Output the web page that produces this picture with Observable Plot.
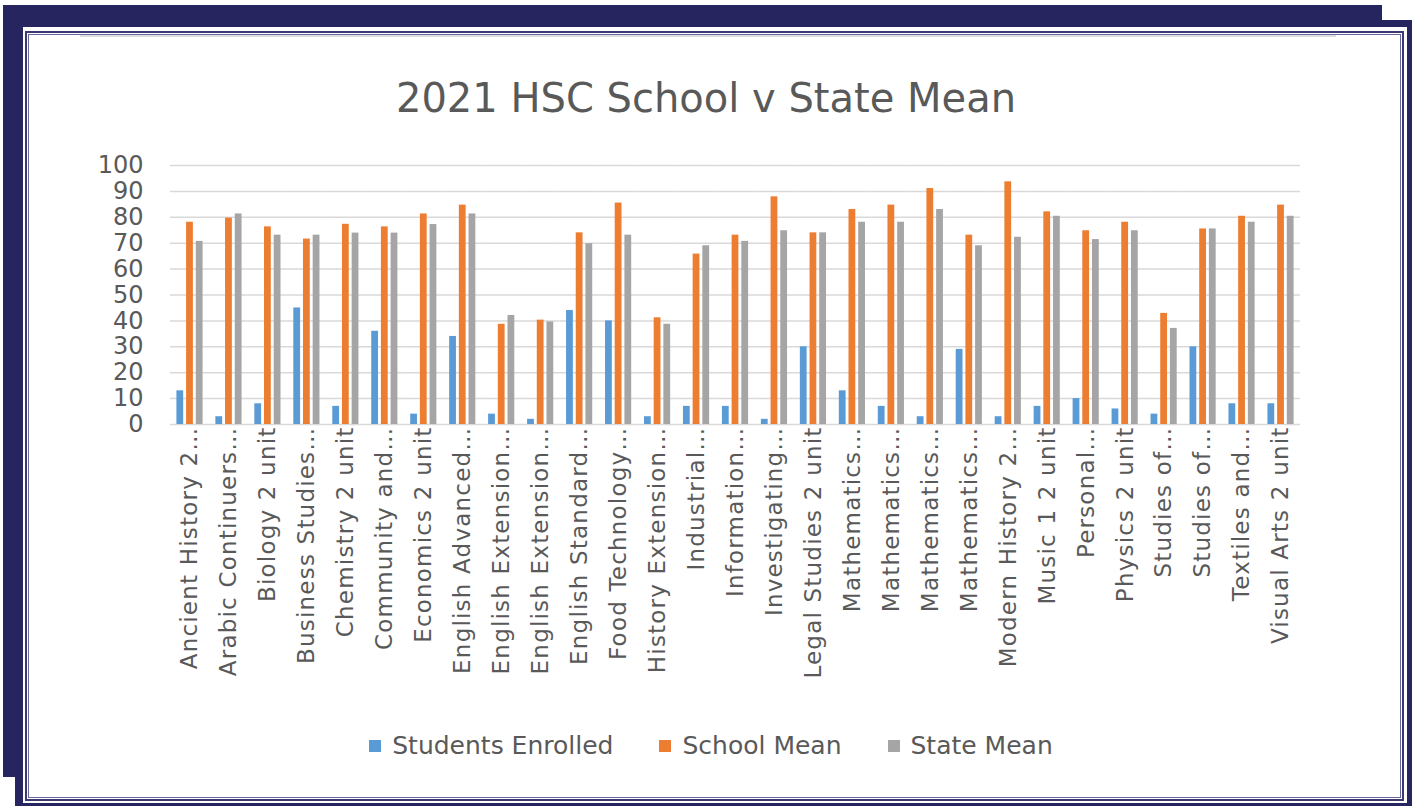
<!DOCTYPE html>
<html>
<head>
<meta charset="utf-8">
<script src="https://cdn.jsdelivr.net/npm/d3@7"></script>
<script src="https://cdn.jsdelivr.net/npm/@observablehq/plot@0.6"></script>
<style>
  html, body { margin:0; padding:0; background:#ffffff; }
  body { width:1415px; height:806px; position:relative; overflow:hidden; font-family:"DejaVu Sans", sans-serif; }
  .navy-back { position:absolute; left:3px; top:5px; width:1379px; height:772px; background:#27255f; }
  .navy-shadow { position:absolute; left:15px; top:20px; width:1397px; height:786px; background:#27255f; }
  .panel { position:absolute; left:23px; top:27px; width:1384px; height:776px; background:#ffffff; }
  .panel-border { position:absolute; left:25px; top:31px; width:1375px; height:766px; border:2px solid #3b3975; box-shadow: inset 0 0 0 1px #ffffff, inset 0 0 0 2px #6a6898; }
  .topline { position:absolute; left:80px; top:35px; width:1256px; height:2px; background:#dedede; }
  #title { position:absolute; left:0; top:74px; width:1412px; text-align:center; font-size:40px; line-height:48px; color:#595959; }
  #chart { position:absolute; left:0; top:140px; }
  #chart g[aria-label="fx-axis tick label"] text { letter-spacing: 1.2px; }
  #legend { position:absolute; left:0; top:731px; width:1422px; display:flex; justify-content:center; gap:46px; font-size:25px; line-height:30px; color:#595959; }
  #legend .item { display:flex; align-items:center; }
  #legend .sw { width:12px; height:12px; margin-right:11px; display:inline-block; }
</style>
</head>
<body>
<div class="navy-back"></div>
<div class="navy-shadow"></div>
<div class="panel"></div>
<div class="panel-border"></div>
<div class="topline"></div>
<div id="title">2021 HSC School v State Mean</div>
<div id="chart"></div>
<div id="legend"></div>
<script>
const subjects = [
  "Ancient History 2 unit","Arabic Continuers 2 unit","Biology 2 unit","Business Studies 2 unit",
  "Chemistry 2 unit","Community and Family Studies 2 unit","Economics 2 unit","English Advanced 2 unit",
  "English Extension 1 1 unit","English Extension 2 1 unit","English Standard 2 unit","Food Technology 2 unit",
  "History Extension 1 unit","Industrial Technology 2 unit","Information Processes and Technology 2 unit",
  "Investigating Science 2 unit","Legal Studies 2 unit","Mathematics Advanced 2 unit",
  "Mathematics Extension 1 1 unit","Mathematics Extension 2 1 unit","Mathematics Standard 2 2 unit",
  "Modern History 2 unit","Music 1 2 unit","Personal Development, Health and Physical Education 2 unit",
  "Physics 2 unit","Studies of Religion I 1 unit","Studies of Religion II 2 unit","Textiles and Design 2 unit",
  "Visual Arts 2 unit"
];
const tickLabels = [
  "Ancient History 2…","Arabic Continuers…","Biology 2 unit","Business Studies…",
  "Chemistry 2 unit","Community and…","Economics 2 unit","English Advanced…",
  "English Extension…","English Extension…","English Standard…","Food Technology…",
  "History Extension…","Industrial…","Information…",
  "Investigating…","Legal Studies 2 unit","Mathematics…",
  "Mathematics…","Mathematics…","Mathematics…",
  "Modern History 2…","Music 1 2 unit","Personal…",
  "Physics 2 unit","Studies of…","Studies of…","Textiles and…",
  "Visual Arts 2 unit"
];
const studentsEnrolled = [13,3,8,45,7,36,4,34,4,2,44,40,3,7,7,2,30,13,7,3,29,3,7,10,6,4,30,8,8];
const schoolMean = [78.1,79.7,76.3,71.6,77.3,76.3,81.3,84.7,38.7,40.3,74.0,85.5,41.2,65.8,73.1,87.9,74.0,83.0,84.7,91.1,73.1,93.7,82.1,74.8,78.1,42.9,75.5,80.4,84.7];
const stateMean = [70.7,81.3,73.1,73.1,73.9,73.9,77.2,81.3,42.1,39.6,69.8,73.1,38.7,69.0,70.7,74.8,74.0,78.1,78.1,83.0,69.0,72.3,80.4,71.4,74.8,37.1,75.5,78.1,80.4];
const seriesNames = ["Students Enrolled","School Mean","State Mean"];
const seriesColors = ["#5b9bd5","#ed7d31","#a5a5a5"];
const yTicks = [0,10,20,30,40,50,60,70,80,90,100];

const seriesValues = [studentsEnrolled, schoolMean, stateMean];
const data = subjects.flatMap((s, i) => seriesNames.map((name, k) => ({subject: s, series: name, value: seriesValues[k][i]})));
const labelOf = new Map(subjects.map((s, i) => [s, tickLabels[i]]));

const chart = Plot.plot({
  width: 1415,
  height: 580,
  marginLeft: 170,
  marginRight: 115,
  marginTop: 25,
  marginBottom: 296,
  style: {fontFamily: "DejaVu Sans", color: "#595959", background: "transparent", overflow: "visible"},
  fx: {domain: subjects, padding: 0, round: false, label: null},
  x: {domain: seriesNames, paddingInner: 0.3, paddingOuter: 0.66, round: false, axis: null},
  y: {domain: [0, 100], label: null},
  color: {domain: seriesNames, range: seriesColors},
  marks: [
    Plot.gridY(yTicks, {stroke: "#d9d9d9", strokeOpacity: 1, strokeWidth: 1.5}),
    Plot.axisY(yTicks, {tickSize: 0, tickPadding: 27, fontSize: 24, label: null}),
    Plot.axisFx({anchor: "bottom", tickRotate: -90, tickSize: 0, tickPadding: 2, fontSize: 23, tickFormat: d => labelOf.get(d), label: null}),
    Plot.barY(data, {fx: "subject", x: "series", y: "value", fill: "series"})
  ]
});
document.getElementById("chart").appendChild(chart);

const legend = document.getElementById("legend");
seriesNames.forEach((name, k) => {
  const item = document.createElement("div");
  item.className = "item";
  const sw = document.createElement("span");
  sw.className = "sw";
  sw.style.background = seriesColors[k];
  item.appendChild(sw);
  item.appendChild(document.createTextNode(name));
  legend.appendChild(item);
});
</script>
</body>
</html>
